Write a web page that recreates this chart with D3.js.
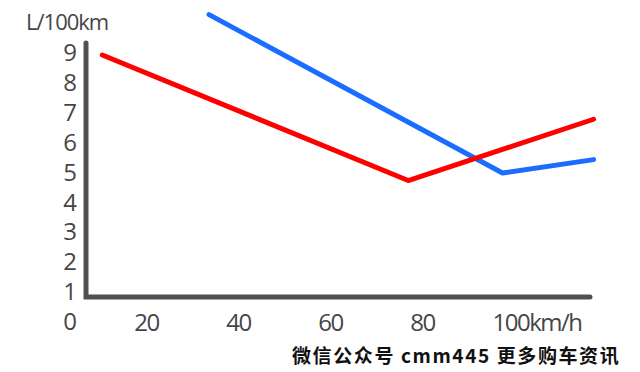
<!DOCTYPE html>
<html>
<head>
<meta charset="utf-8">
<script src="https://cdn.jsdelivr.net/npm/d3@7"></script>
<style>
  body { margin: 0; background: #fff; }
  svg { display: block; }
</style>
</head>
<body>
<div id="chart"></div>
<script>
// speeds (km/h) and consumption (L/100km)
var redSpeed = [10.5, 77, 117.3];
var redValue = [8.9, 4.7, 6.75];
var blueSpeed = [33.7, 97.5, 117.3];
var blueValue = [10.25, 4.95, 5.4];
var yTicks = [0, 1, 2, 3, 4, 5, 6, 7, 8, 9];
var xTicks = [20, 40, 60, 80, 100];

var width = 640, height = 372;

var svg = d3.select("#chart").append("svg")
    .attr("width", width)
    .attr("height", height);

// set the ranges
var x = d3.scaleLinear().domain([20, 100]).range([146, 514]);
var y = d3.scaleLinear().domain([0, 9]).range([321, 52]);

var textColor = "#464646",
    axisColor = "#505050",
    numFont = "'Open Sans', sans-serif";

// axis lines
svg.append("path")
    .attr("d", "M86,43 L86,297 L590,297")
    .attr("fill", "none")
    .attr("stroke", axisColor)
    .attr("stroke-width", 5)
    .attr("stroke-linecap", "round")
    .attr("stroke-linejoin", "miter");

// y labels
var yAxis = svg.append("g")
    .attr("transform", "translate(86,0)")
    .call(d3.axisLeft(y).tickValues(yTicks).tickSize(0).tickPadding(10));
yAxis.select(".domain").remove();
yAxis.selectAll("text")
    .attr("dy", "0.36em")
    .attr("fill", textColor)
    .style("font-family", numFont)
    .style("font-size", "24px")
    .style("letter-spacing", "-1px");

// x labels
var xAxis = svg.append("g")
    .attr("transform", "translate(0,331)")
    .call(d3.axisBottom(x).tickValues(xTicks).tickSize(0).tickPadding(0));
xAxis.select(".domain").remove();
xAxis.selectAll("text")
    .attr("dy", 0)
    .attr("fill", textColor)
    .style("font-family", numFont)
    .style("font-size", "24px")
    .style("letter-spacing", "-1.5px");
xAxis.selectAll(".tick").filter(function(d) { return d === 100; })
  .select("text")
    .attr("text-anchor", "start")
    .attr("x", -22)
    .text("100km/h");

// unit label
svg.append("text")
    .attr("x", 26)
    .attr("y", 30)
    .attr("fill", textColor)
    .style("font-family", numFont)
    .style("font-size", "22px")
    .style("letter-spacing", "-1px")
    .text("L/100km");

// lines
var line = d3.line()
    .x(function(d) { return x(d.s); })
    .y(function(d) { return y(d.v); });

var red = redSpeed.map(function(s, i) { return {s: s, v: redValue[i]}; });
var blue = blueSpeed.map(function(s, i) { return {s: s, v: blueValue[i]}; });

svg.append("path")
    .datum(blue)
    .attr("d", line)
    .attr("fill", "none")
    .attr("stroke", "#1a6dff")
    .attr("stroke-width", 5)
    .attr("stroke-linecap", "round")
    .attr("stroke-linejoin", "round");

svg.append("path")
    .datum(red)
    .attr("d", line)
    .attr("fill", "none")
    .attr("stroke", "#ff0000")
    .attr("stroke-width", 5)
    .attr("stroke-linecap", "round")
    .attr("stroke-linejoin", "round");

// watermark
svg.append("text")
    .attr("x", 292)
    .attr("y", 363)
    .attr("fill", "#111")
    .style("font-family", "'Noto Sans CJK SC', sans-serif")
    .style("font-weight", "bold")
    .style("font-size", "19px")
    .style("letter-spacing", "1.6px")
    .text("微信公众号 cmm445 更多购车资讯");
</script>
</body>
</html>
